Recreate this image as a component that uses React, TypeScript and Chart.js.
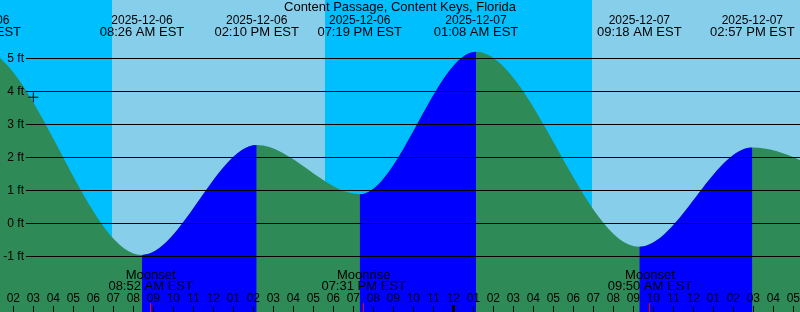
import React, { useEffect, useRef } from "react";
import { Chart, registerables } from "chart.js";

Chart.register(...registerables);

// All times are hours since 2025-12-06 00:00 EST
const TITLE = "Content Passage, Content Keys, Florida";

const tideTimes = [-5.5, 0.27, 8.433, 14.167, 19.317, 25.133, 33.3, 38.95, 44.2];
const tideHeights = [0.95, 5.3, -0.96, 2.37, 0.88, 5.2, -0.71, 2.3, 1.1];
const tideDates = [
  "2025-12-05",
  "2025-12-06",
  "2025-12-06",
  "2025-12-06",
  "2025-12-06",
  "2025-12-07",
  "2025-12-07",
  "2025-12-07",
  "2025-12-07",
];
const tideClock = [
  "06:30 PM EST",
  "12:16 AM EST",
  "08:26 AM EST",
  "02:10 PM EST",
  "07:19 PM EST",
  "01:08 AM EST",
  "09:18 AM EST",
  "02:57 PM EST",
  "08:12 PM EST",
];

const sunriseTimes = [6.933, 30.933];
const sunsetTimes = [17.583, 41.6];

const moonTimes = [8.867, 19.517, 33.833];
const moonNames = ["Moonset", "Moonrise", "Moonset"];
const moonClock = ["08:52 AM EST", "07:31 PM EST", "09:50 AM EST"];

const nowTime = [3.0];
const nowHeight = [3.82];

const yTicks = [-1, 0, 1, 2, 3, 4, 5];
const xMin = 1.3333;
const xMax = 41.3333;
const yMin = -2.688;
const yMax = 6.767;

const FAMILY = "'Liberation Sans', Arial, sans-serif";
const FONT12 = "12px " + FAMILY;
const FONT13 = "13px " + FAMILY;
const NIGHT = "#00BFFF";
const DAY = "#87CEEB";
const RISE = "#0000FF";
const FALL = "#2E8B57";

function hourLabel(h: number) {
  const v = ((h % 12) + 12) % 12 || 12;
  return String(v).padStart(2, "0");
}

const bgPlugin = {
  id: "bgBands",
  beforeDatasetsDraw(chart: any) {
    const { ctx, chartArea, scales } = chart;
    const x = scales.x;
    ctx.save();
    ctx.fillStyle = NIGHT;
    ctx.fillRect(chartArea.left, chartArea.top, chartArea.right - chartArea.left, chartArea.bottom - chartArea.top);
    ctx.fillStyle = DAY;
    for (let i = 0; i < sunriseTimes.length; i++) {
      const a = Math.max(chartArea.left, x.getPixelForValue(sunriseTimes[i]));
      const b = Math.min(chartArea.right, x.getPixelForValue(sunsetTimes[i]));
      if (b > a) ctx.fillRect(a, chartArea.top, b - a, chartArea.bottom - chartArea.top);
    }
    ctx.restore();
  },
};

const overlayPlugin = {
  id: "overlay",
  afterDatasetsDraw(chart: any) {
    const { ctx, chartArea, scales } = chart;
    const x = scales.x;
    const y = scales.y;
    ctx.save();
    // horizontal grid lines + y labels
    ctx.strokeStyle = "#000";
    ctx.lineWidth = 1;
    ctx.fillStyle = "#000";
    ctx.font = FONT12;
    for (const v of yTicks) {
      const py = Math.floor(y.getPixelForValue(v)) + 0.5;
      ctx.beginPath();
      ctx.moveTo(26, py);
      ctx.lineTo(chartArea.right, py);
      ctx.stroke();
      ctx.textAlign = "right";
      ctx.textBaseline = "middle";
      ctx.fillText(v + " ft", 24, py);
    }
    // title
    ctx.textAlign = "center";
    ctx.textBaseline = "alphabetic";
    ctx.font = FONT13;
    ctx.fillText(TITLE, (chartArea.left + chartArea.right) / 2, 11);
    // high/low labels
    for (let i = 0; i < tideTimes.length; i++) {
      const px = x.getPixelForValue(tideTimes[i]);
      ctx.font = FONT12;
      ctx.fillText(tideDates[i], px, 23.5);
      ctx.font = FONT13;
      ctx.fillText(tideClock[i], px, 35.5);
    }
    // moon labels
    ctx.font = FONT13;
    for (let i = 0; i < moonTimes.length; i++) {
      const px = x.getPixelForValue(moonTimes[i]);
      ctx.fillText(moonNames[i], px, 278.5);
      ctx.fillText(moonClock[i], px, 289.5);
    }
    // hour ticks + labels
    ctx.font = FONT12;
    for (let h = Math.ceil(xMin); h <= Math.floor(xMax); h++) {
      const px = x.getPixelForValue(h);
      ctx.fillStyle = "#000";
      ctx.fillText(hourLabel(h), px, 301.5);
      const midnight = h % 24 === 0;
      if (midnight) ctx.fillRect(Math.floor(px) - 1, 305, 3, chartArea.bottom - 305);
      else ctx.fillRect(Math.floor(px), 306, 1, chartArea.bottom - 306);
    }
    ctx.fillStyle = "#FF0000";
    for (const t of moonTimes) {
      const px = x.getPixelForValue(t);
      ctx.fillRect(Math.floor(px), 303, 1, chartArea.bottom - 303);
    }
    ctx.restore();
  },
};

export default function App() {
  const ref = useRef<HTMLCanvasElement | null>(null);
  useEffect(() => {
    document.body.style.margin = "0";
    const canvas = ref.current;
    if (!canvas) return;
    const tidePoints = tideTimes.map((t, i) => ({ x: t, y: tideHeights[i] }));
    const chart = new Chart(canvas, {
      type: "line",
      data: {
        datasets: [
          {
            label: "now",
            data: nowTime.map((t, i) => ({ x: t, y: nowHeight[i] })),
            showLine: false,
            pointStyle: "cross",
            pointRadius: 5,
            pointBorderColor: "#000",
            pointBorderWidth: 1,
            borderColor: "#000",
            order: 0,
          } as any,
          {
            label: "rising",
            data: tidePoints,
            cubicInterpolationMode: "monotone",
            fill: "start",
            borderWidth: 0,
            borderColor: "rgba(0,0,0,0)",
            backgroundColor: "rgba(0,0,0,0)",
            pointRadius: 0,
            capBezierPoints: false,
            segment: {
              backgroundColor: (c: any) => (c.p1.parsed.y > c.p0.parsed.y ? RISE : "rgba(0,0,0,0)"),
            },
            order: 1,
          } as any,
          {
            label: "tide",
            data: tidePoints,
            cubicInterpolationMode: "monotone",
            fill: "start",
            borderWidth: 0,
            borderColor: "rgba(0,0,0,0)",
            backgroundColor: FALL,
            pointRadius: 0,
            capBezierPoints: false,
            order: 2,
          } as any,
        ],
      },
      options: {
        animation: false,
        responsive: false,
        maintainAspectRatio: false,
        layout: { padding: 0, autoPadding: false },
        events: [],
        plugins: {
          legend: { display: false },
          tooltip: { enabled: false },
          title: { display: false },
        },
        scales: {
          x: { type: "linear", min: xMin, max: xMax, display: false },
          y: { type: "linear", min: yMin, max: yMax, display: false },
        },
      },
      plugins: [bgPlugin, overlayPlugin],
    });
    return () => chart.destroy();
  }, []);
  return (
    <div style={{ width: 800, height: 312 }}>
      <canvas ref={ref} width={800} height={312} style={{ display: "block" }} />
    </div>
  );
}
